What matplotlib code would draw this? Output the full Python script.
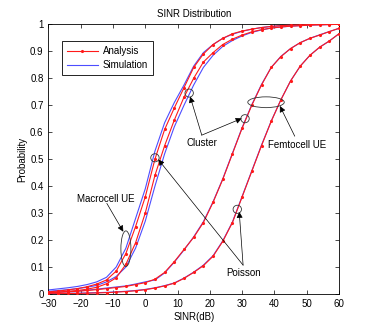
import matplotlib
matplotlib.use("Agg")
import matplotlib.pyplot as plt
from matplotlib.patches import Ellipse
import numpy as np

plt.rcParams.update({
    'font.family': ['Liberation Sans', 'DejaVu Sans'],
    'font.size': 7,
    'axes.linewidth': 0.6,
    'xtick.direction': 'in',
    'ytick.direction': 'in',
    'xtick.top': True,
    'ytick.right': True,
    'xtick.major.size': 3,
    'ytick.major.size': 3,
    'xtick.major.width': 0.5,
    'ytick.major.width': 0.5,
})

# SINR grid (dB)
sinr = list(range(-30, 61, 3))

# Macrocell UE, Poisson (left pair)
macro_poisson_sim = [0.015, 0.019, 0.023, 0.028, 0.035, 0.045, 0.062, 0.10, 0.17, 0.28, 0.39,
                     0.53, 0.635, 0.71, 0.775, 0.845, 0.895, 0.925, 0.948, 0.963, 0.974,
                     0.982, 0.988, 0.992, 0.995, 0.997, 0.998, 0.999, 1.0, 1.0, 1.0]
macro_poisson_ana = [0.008, 0.011, 0.015, 0.02, 0.027, 0.037, 0.052, 0.085, 0.15, 0.25, 0.36,
                     0.50, 0.61, 0.69, 0.765, 0.84, 0.89, 0.925, 0.948, 0.965, 0.975,
                     0.982, 0.988, 0.992, 0.995, 0.997, 0.998, 0.999, 1.0, 1.0, 1.0]
# Macrocell UE, Cluster (right pair)
macro_cluster_ana = [0.005, 0.007, 0.01, 0.013, 0.018, 0.025, 0.038, 0.06, 0.11, 0.19, 0.30,
                     0.44, 0.55, 0.645, 0.73, 0.80, 0.86, 0.895, 0.925, 0.945, 0.96,
                     0.972, 0.98, 0.986, 0.99, 0.993, 0.995, 0.997, 0.998, 0.999, 1.0]
macro_cluster_sim = [0.01, 0.013, 0.016, 0.02, 0.025, 0.032, 0.045, 0.065, 0.10, 0.17, 0.27,
                     0.40, 0.52, 0.62, 0.70, 0.775, 0.84, 0.885, 0.918, 0.94, 0.957,
                     0.97, 0.979, 0.986, 0.99, 0.993, 0.995, 0.997, 0.998, 0.999, 1.0]
# Femtocell UE, Cluster
femto_cluster_ana = [0.005, 0.006, 0.008, 0.01, 0.013, 0.016, 0.02, 0.024, 0.028, 0.035, 0.042,
                     0.055, 0.08, 0.12, 0.165, 0.21, 0.265, 0.34, 0.425, 0.52, 0.615,
                     0.70, 0.775, 0.84, 0.88, 0.91, 0.932, 0.948, 0.96, 0.973, 0.985]
femto_cluster_sim = [0.006, 0.007, 0.009, 0.011, 0.014, 0.018, 0.022, 0.026, 0.03, 0.037, 0.045,
                     0.052, 0.078, 0.118, 0.163, 0.212, 0.268, 0.342, 0.427, 0.522, 0.617,
                     0.702, 0.777, 0.84, 0.881, 0.91, 0.932, 0.948, 0.961, 0.973, 0.985]
# Femtocell UE, Poisson
femto_poisson_ana = [0.001, 0.001, 0.002, 0.002, 0.003, 0.004, 0.005, 0.007, 0.009, 0.012, 0.016,
                     0.022, 0.03, 0.04, 0.058, 0.08, 0.105, 0.14, 0.195, 0.265, 0.36,
                     0.455, 0.55, 0.64, 0.72, 0.79, 0.845, 0.885, 0.915, 0.938, 0.965]
femto_poisson_sim = [0.002, 0.002, 0.003, 0.003, 0.004, 0.005, 0.006, 0.008, 0.01, 0.013, 0.017,
                     0.023, 0.031, 0.041, 0.059, 0.081, 0.107, 0.142, 0.197, 0.267, 0.362,
                     0.457, 0.552, 0.641, 0.72, 0.79, 0.845, 0.885, 0.915, 0.938, 0.965]

red = '#ff1a1a'
blue = '#4d4dff'

fig = plt.figure(figsize=(3.74, 3.31), dpi=100)
ax = fig.add_axes([0.1294, 0.1118, 0.7770, 0.8148])

pairs = [(macro_poisson_ana, macro_poisson_sim), (macro_cluster_ana, macro_cluster_sim),
         (femto_cluster_ana, femto_cluster_sim), (femto_poisson_ana, femto_poisson_sim)]
for i, (ana, sim) in enumerate(pairs):
    ax.plot(sinr, sim, color=blue, lw=0.8, label='Simulation' if i == 0 else None, zorder=2)
    ax.plot(sinr, ana, color=red, lw=0.8, marker='.', markersize=2.5,
            label='Analysis' if i == 0 else None, zorder=3)

ax.set_xlim(-30, 60)
ax.set_ylim(0, 1)
ax.set_xticks(np.arange(-30, 61, 10))
ax.set_yticks(np.arange(0, 1.01, 0.1))
ax.set_yticklabels(['0', '0.1', '0.2', '0.3', '0.4', '0.5', '0.6', '0.7', '0.8', '0.9', '1'])
ax.set_xlabel('SINR(dB)', labelpad=2)
ax.set_ylabel('Probability', labelpad=2)
ax.set_title('SINR Distribution', fontsize=7, pad=5)

handles, labels = ax.get_legend_handles_labels()
order = [labels.index('Analysis'), labels.index('Simulation')]
ax.legend([handles[k] for k in order], [labels[k] for k in order], loc='upper left',
          bbox_to_anchor=(0.03, 0.955), fancybox=False, edgecolor='k', framealpha=1,
          handlelength=3.2, borderpad=0.5, labelspacing=0.4, handletextpad=0.5)
ax.get_legend().get_frame().set_linewidth(0.6)

# circles and ellipses
ec = '#333333'
for (cx, cy, w, h) in [(13.6, 0.745, 2.6, 0.03), (30.9, 0.65, 2.6, 0.03),
                       (3.0, 0.505, 2.6, 0.03), (28.5, 0.314, 2.6, 0.03),
                       (37.4, 0.711, 11.3, 0.04), (-6.0, 0.168, 3.1, 0.132)]:
    ax.add_patch(Ellipse((cx, cy), w, h, fill=False, edgecolor=ec, lw=0.6, zorder=4))

arrow = dict(arrowstyle='-|>', color='k', lw=0.5, mutation_scale=9, shrinkA=0, shrinkB=0)
# Cluster
ax.annotate('', xy=(13.9, 0.732), xytext=(17.5, 0.589), arrowprops=arrow)
ax.annotate('', xy=(29.9, 0.651), xytext=(17.5, 0.589), arrowprops=arrow)
ax.text(17.5, 0.56, 'Cluster', ha='center', va='center')
# Femtocell UE
ax.annotate('', xy=(41.7, 0.697), xytext=(46.3, 0.585), arrowprops=arrow)
ax.text(47.0, 0.552, 'Femtocell UE', ha='center', va='center')
# Macrocell UE
ax.annotate('', xy=(-6.8, 0.231), xytext=(-11.9, 0.336), arrowprops=arrow)
ax.text(-12.2, 0.354, 'Macrocell UE', ha='center', va='center')
# Poisson
ax.annotate('', xy=(4.0, 0.499), xytext=(30.3, 0.107), arrowprops=arrow)
ax.annotate('', xy=(29.1, 0.305), xytext=(30.3, 0.107), arrowprops=arrow)
ax.text(30.3, 0.077, 'Poisson', ha='center', va='center')

fig.savefig('out.png', dpi=100)
